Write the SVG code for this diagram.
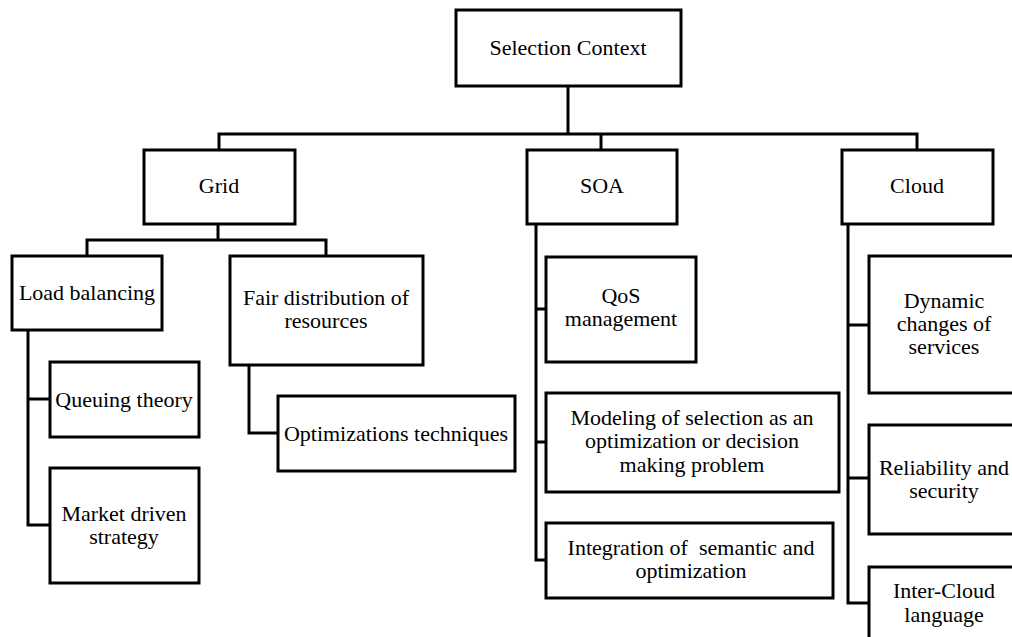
<svg xmlns="http://www.w3.org/2000/svg" width="1012" height="637" viewBox="0 0 1012 637">
  <style>
    .box { fill: #fff; stroke: #000; stroke-width: 3; }
    .wire { fill: none; stroke: #000; stroke-width: 3; stroke-linejoin: miter; stroke-linecap: square; }
    text { font-family: "Liberation Serif", "Times New Roman", serif; font-size: 22px; fill: #000; text-anchor: middle; }
  </style>
  <rect width="1012" height="637" fill="#fff"/>

  <!-- connectors -->
  <g id="connectors" class="wire">
    <!-- root to first level -->
    <path d="M568,86 V134 M219,150 V134 H917 V150 M601,134 V150"/>
    <!-- Grid branch -->
    <path d="M218,224 V240 M87,256 V240 H326 V256"/>
    <path d="M28,330 V525 H50 M28,399 H50"/>
    <path d="M249,365 V433 H278"/>
    <!-- SOA branch -->
    <path d="M536,224 V560 H546 M536,309 H546 M536,442 H546"/>
    <!-- Cloud branch -->
    <path d="M848,224 V603 H869 M848,325 H869 M848,478 H869"/>
  </g>

  <g id="selection-context">
    <rect class="box" x="456" y="10" width="225" height="76"/>
    <text x="568" y="55">Selection Context</text>
  </g>

  <g id="grid">
    <rect class="box" x="144" y="150" width="151" height="74"/>
    <text x="219" y="193">Grid</text>
  </g>
  <g id="soa">
    <rect class="box" x="527" y="150" width="150" height="74"/>
    <text x="602" y="193">SOA</text>
  </g>
  <g id="cloud">
    <rect class="box" x="842" y="150" width="151" height="74"/>
    <text x="917" y="193">Cloud</text>
  </g>

  <g id="load-balancing">
    <rect class="box" x="12" y="256" width="150" height="74"/>
    <text x="87" y="300">Load balancing</text>
  </g>
  <g id="fair-distribution">
    <rect class="box" x="230" y="256" width="193" height="109"/>
    <text x="326" y="305">Fair distribution of</text>
    <text x="326" y="328">resources</text>
  </g>
  <g id="queuing-theory">
    <rect class="box" x="50" y="362" width="149" height="75"/>
    <text x="124" y="407">Queuing theory</text>
  </g>
  <g id="market-driven">
    <rect class="box" x="50" y="468" width="149" height="115"/>
    <text x="124" y="521">Market driven</text>
    <text x="124" y="544">strategy</text>
  </g>
  <g id="optimizations">
    <rect class="box" x="278" y="396" width="237" height="75"/>
    <text x="396" y="441">Optimizations techniques</text>
  </g>

  <g id="qos">
    <rect class="box" x="546" y="257" width="150" height="105"/>
    <text x="621" y="303">QoS</text>
    <text x="621" y="326">management</text>
  </g>
  <g id="modeling">
    <rect class="box" x="546" y="393" width="293" height="99"/>
    <text x="692" y="425">Modeling of selection as an</text>
    <text x="692" y="448">optimization or decision</text>
    <text x="692" y="472">making problem</text>
  </g>
  <g id="integration">
    <rect class="box" x="546" y="523" width="287" height="75"/>
    <text x="691" y="555" xml:space="preserve">Integration of  semantic and</text>
    <text x="691" y="578">optimization</text>
  </g>

  <g id="dynamic-changes">
    <rect class="box" x="869" y="256" width="150" height="137"/>
    <text x="944" y="308">Dynamic</text>
    <text x="944" y="331">changes of</text>
    <text x="944" y="354">services</text>
  </g>
  <g id="reliability">
    <rect class="box" x="869" y="425" width="150" height="109"/>
    <text x="944" y="475">Reliability and</text>
    <text x="944" y="498">security</text>
  </g>
  <g id="inter-cloud">
    <rect class="box" x="869" y="567" width="150" height="90"/>
    <text x="944" y="598">Inter-Cloud</text>
    <text x="944" y="622">language</text>
  </g>
</svg>
